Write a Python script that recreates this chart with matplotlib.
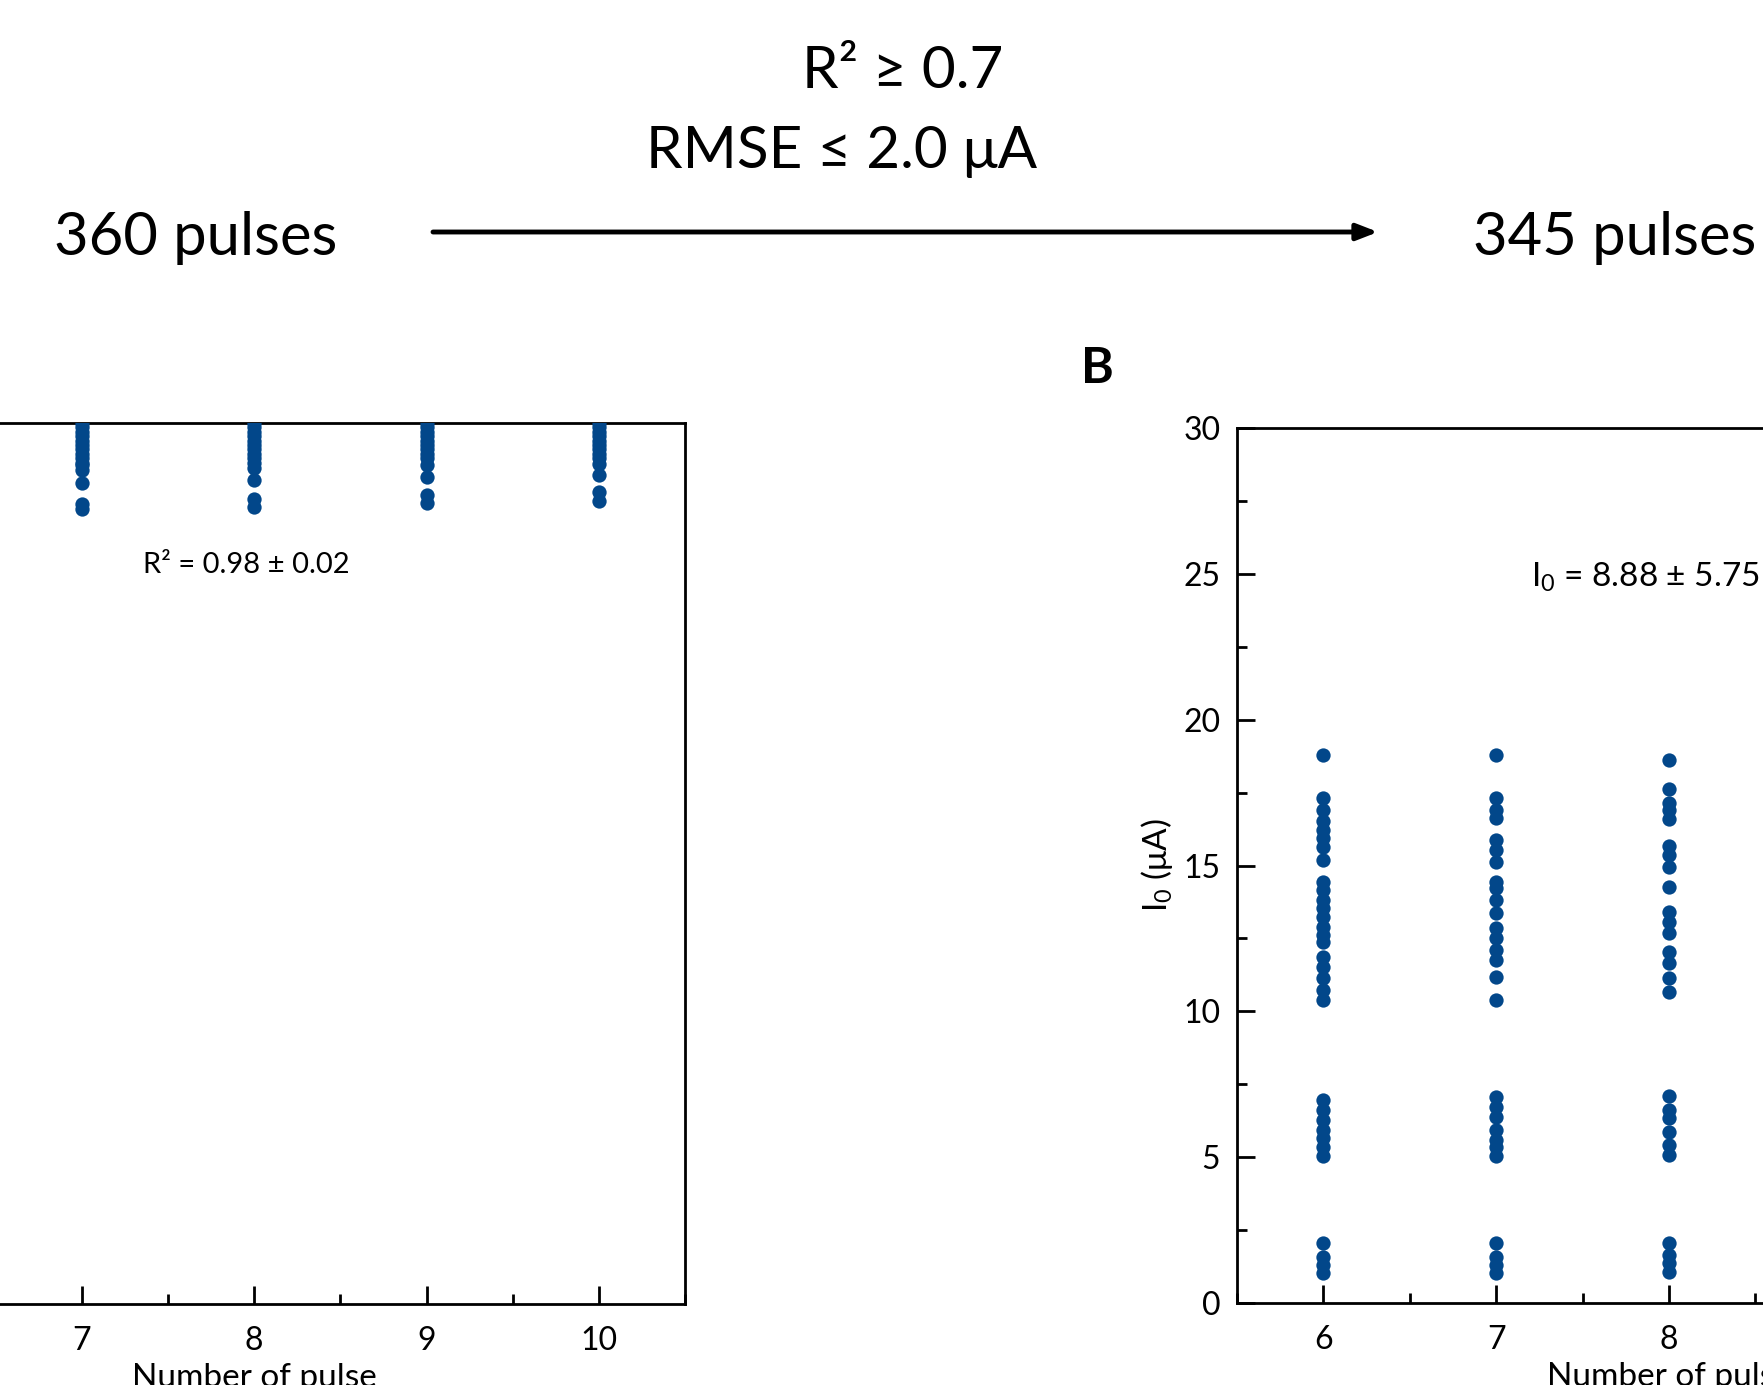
import numpy as np
import matplotlib
matplotlib.use("Agg")
import matplotlib.pyplot as plt
from matplotlib.patches import FancyArrowPatch
from matplotlib.ticker import MultipleLocator

# %% data

# panel A : R^2 per pulse number (only columns 7-10 are inside the crop)
r2_pulse = [7, 8, 9, 10]
r2_vals = {
    7: [1.0, 0.995, 0.99, 0.985, 0.98, 0.975, 0.97, 0.965, 0.96, 0.955, 0.952, 0.947, 0.932, 0.908, 0.902],
    8: [1.0, 0.995, 0.99, 0.985, 0.98, 0.975, 0.97, 0.965, 0.96, 0.955, 0.949, 0.935, 0.914, 0.905],
    9: [1.0, 0.995, 0.99, 0.985, 0.98, 0.975, 0.97, 0.965, 0.96, 0.952, 0.939, 0.918, 0.909],
    10: [1.0, 0.995, 0.99, 0.985, 0.98, 0.975, 0.97, 0.965, 0.96, 0.954, 0.941, 0.922, 0.911],
}
r2_text = "R² = 0.98 ± 0.02"

# panel B : I0 per pulse number (only columns 6-8 are inside the crop)
i0_pulse = [6, 7, 8]
i0_vals = {
    6: [18.79, 17.31, 16.91, 16.51, 16.22, 15.94, 15.65, 15.19,
        14.45, 14.16, 13.82, 13.54, 13.25, 12.90, 12.62, 12.39, 11.88, 11.53, 11.13, 10.73, 10.39,
        6.96, 6.62, 6.28, 5.93, 5.65, 5.36, 5.04,
        2.07, 1.59, 1.30, 1.02],
    7: [18.79, 17.31, 16.91, 16.62, 15.88, 15.53, 15.13,
        14.45, 14.22, 13.82, 13.36, 12.85, 12.51, 12.11, 11.76, 11.19, 10.39,
        7.07, 6.73, 6.39, 5.93, 5.59, 5.36, 5.04,
        2.07, 1.59, 1.30, 1.02],
    8: [18.60, 17.62, 17.14, 16.91, 16.59, 15.67, 15.36, 14.96, 14.28,
        13.42, 13.08, 12.68, 12.05, 11.65, 11.13, 10.68,
        7.10, 6.62, 6.33, 5.87, 5.42, 5.08,
        2.07, 1.65, 1.36, 1.07],
}
i0_text = "I$_0$ = 8.88 ± 5.75"

filter_r2 = "R² ≥ 0.7"
filter_rmse = "RMSE ≤ 2.0 μA"
n_before = "360 pulses"
n_after = "345 pulses"

# %% style

plt.rcParams['font.family'] = ['Lato', 'DejaVu Sans']
plt.rcParams['mathtext.fontset'] = 'custom'
plt.rcParams['mathtext.rm'] = 'Lato'
plt.rcParams['mathtext.it'] = 'Lato:italic'
plt.rcParams['mathtext.bf'] = 'Lato:bold'

blue = '#02478a'
W, H = 1763, 1385


def style_axes(ax):
    for sp in ax.spines.values():
        sp.set_linewidth(2.0)
    ax.tick_params(which='both', direction='in', top=False, right=False, width=2.0,
                   labelsize=23)
    ax.tick_params(which='major', length=13)
    ax.tick_params(which='minor', length=7.5)
    ax.tick_params(axis='x', pad=16)
    ax.tick_params(axis='y', pad=12)
    ax.set_xlim(5.5, 10.5)
    ax.xaxis.set_major_locator(MultipleLocator(1))
    ax.xaxis.set_minor_locator(MultipleLocator(0.5))
    ax.set_xlabel('Number of pulse', fontsize=24, labelpad=5)


fig = plt.figure(figsize=(W / 100, H / 100), dpi=100)

# %% panel A (mostly outside the crop on the left)
axA = fig.add_axes([-176.5 / W, 1 - 1304 / H, 861.5 / W, 881 / H])
for p in r2_pulse:
    axA.scatter([p] * len(r2_vals[p]), r2_vals[p], s=106, color=blue, lw=0, zorder=3)
style_axes(axA)
axA.set_ylim(0, 1)
axA.yaxis.set_major_locator(MultipleLocator(0.2))
axA.yaxis.set_minor_locator(MultipleLocator(0.1))
axA.text(7.355, 0.830, r2_text, fontsize=21, ha='left', va='baseline')

# %% panel B
axB = fig.add_axes([1237 / W, 1 - 1303 / H, 864 / W, 875 / H])
for p in i0_pulse:
    axB.scatter([p] * len(i0_vals[p]), i0_vals[p], s=106, color=blue, lw=0, zorder=3)
style_axes(axB)
axB.set_ylim(0, 30)
axB.yaxis.set_major_locator(MultipleLocator(5))
axB.yaxis.set_minor_locator(MultipleLocator(2.5))
axB.set_ylabel('I$_0$ (μA)', fontsize=24)
axB.yaxis.set_label_coords(-0.072, 0.5)
axB.text(7.20, 24.56, i0_text, fontsize=24, ha='left', va='baseline')

# %% header: filtering step
fig.text(903 / W, 1 - 88 / H, filter_r2, fontsize=42, ha='center', va='baseline')
fig.text(842 / W, 1 - 168 / H, filter_rmse, fontsize=42, ha='center', va='baseline')
fig.text(54 / W, 1 - 255 / H, n_before, fontsize=43, ha='left', va='baseline')
fig.text(1473 / W, 1 - 255 / H, n_after, fontsize=43, ha='left', va='baseline')
arrow = FancyArrowPatch((433 / W, 1 - 232 / H), (1378 / W, 1 - 232 / H),
                        transform=fig.transFigure, arrowstyle='-|>,head_length=0.9,head_width=0.35',
                        mutation_scale=14, lw=3.5, color='black', shrinkA=0, shrinkB=0)
fig.patches.append(arrow)

fig.text(1081 / W, 1 - 383 / H, 'B', fontsize=36, fontweight='bold', ha='left', va='baseline')

fig.savefig('out.png', dpi=100)
